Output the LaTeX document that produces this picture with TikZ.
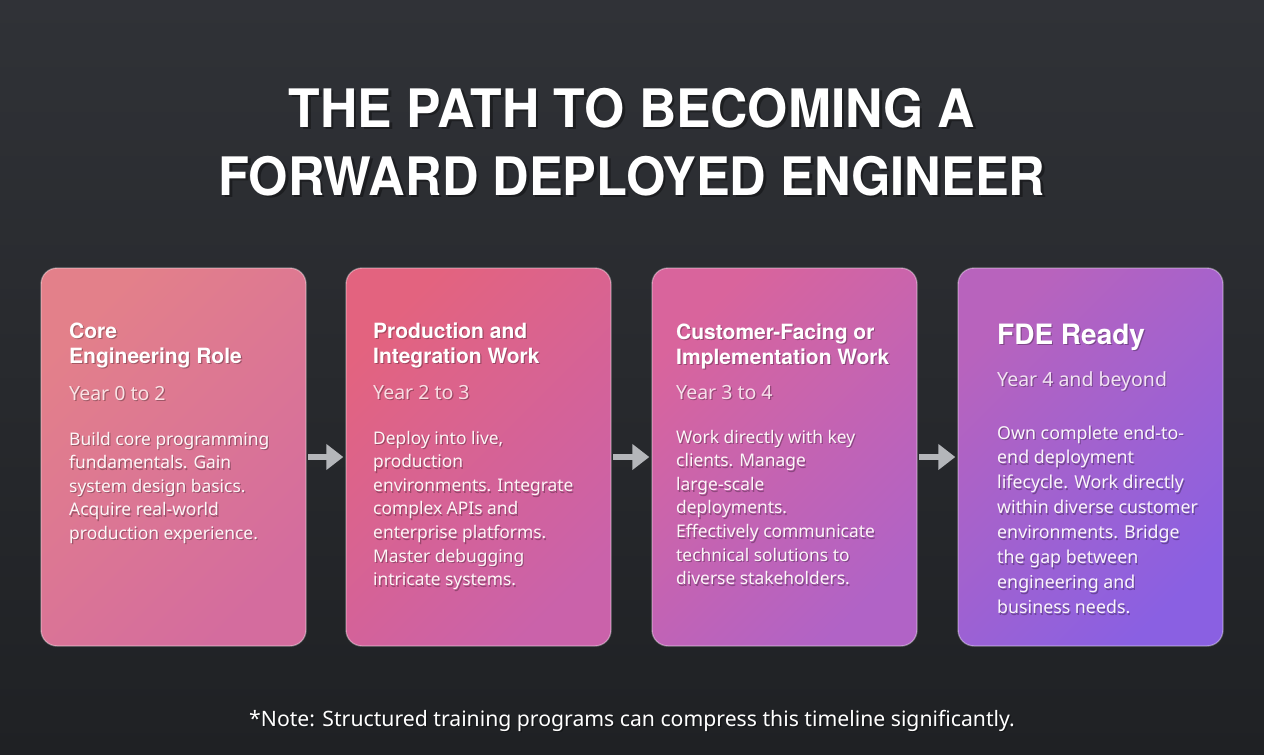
\documentclass[tikz,border=0pt]{standalone}
\usepackage{graphicx}
\usepackage{fontspec}
\setmainfont{Noto Sans}
\newfontfamily\titlefont{TeX Gyre Heros}
\usetikzlibrary{arrows.meta,calc}
\definecolor{bgtop}{HTML}{303237}
\definecolor{bgbot}{HTML}{1F2124}
\definecolor{cAa}{HTML}{E3808A}
\definecolor{cAb}{HTML}{D46C9E}
\definecolor{cBa}{HTML}{E3637F}
\definecolor{cBb}{HTML}{CA62AA}
\definecolor{cCa}{HTML}{D9649C}
\definecolor{cCb}{HTML}{B163C6}
\definecolor{cDa}{HTML}{B863BD}
\definecolor{cDb}{HTML}{8A60E2}
\definecolor{arrowgray}{HTML}{B4B6BA}
\tikzset{
  card/.style={rectangle, rounded corners=16pt, minimum width=265pt, minimum height=378pt,
    inner sep=0pt, draw=white, draw opacity=0.35, line width=1.4pt},
  txt/.style={anchor=base west, inner sep=0pt, text=white},
  arr/.style={draw=arrowgray, line width=6pt, -{Triangle[width=25pt,length=17pt]},
    shorten <=1.5pt, shorten >=2pt},
  bigtitle/.style={anchor=base, inner sep=0pt, font=\titlefont\bfseries\fontsize{53}{60}\selectfont},
  foot/.style={anchor=base, inner sep=0pt, font=\fontsize{21.2}{24}\selectfont},
}
\newcommand{\cardtitle}[1]{\parbox[t]{250pt}{\raggedright\titlefont\bfseries\fontsize{21}{25}\selectfont #1}}
\newcommand{\cardyear}[1]{\parbox[t]{250pt}{\raggedright\fontsize{19.5}{24}\selectfont #1}}
\newcommand{\cardbody}[3]{\parbox[t]{250pt}{\raggedright\fontsize{#1}{#2}\selectfont #3}}
\newcommand{\stxt}[4]{%
  \node[txt, #2, text=black, text opacity=0.28] (#1s) at ($(#3)+(1.2,1.8)$) {#4};
  \node[txt, #2] (#1) at (#3) {#4};}
\begin{document}
\begin{tikzpicture}[x=1pt, y=-1pt]
\useasboundingbox (0,0) rectangle (1264,755);
\shade[top color=bgtop, bottom color=bgbot] (0,0) rectangle (1264,755);

% title
\node[bigtitle, text=black, text opacity=0.35] (t1s) at (634.5,129) {\scalebox{0.975}[1]{THE PATH TO BECOMING A}};
\node[bigtitle, text=white] (t1) at (632,127) {\scalebox{0.975}[1]{THE PATH TO BECOMING A}};
\node[bigtitle, text=black, text opacity=0.35] (t2s) at (634.5,197) {\scalebox{0.955}[1]{FORWARD DEPLOYED ENGINEER}};
\node[bigtitle, text=white] (t2) at (632,195) {\scalebox{0.955}[1]{FORWARD DEPLOYED ENGINEER}};

% cards
\node[card, top color=cAa, bottom color=cAb, shading angle=45] (c1) at (173.5,457) {};
\node[card, top color=cBa, bottom color=cBb, shading angle=45] (c2) at (478.5,457) {};
\node[card, top color=cCa, bottom color=cCb, shading angle=45] (c3) at (784.5,457) {};
\node[card, top color=cDa, bottom color=cDb, shading angle=45] (c4) at (1090.5,457) {};

\draw[arr] (c1.east) -- (c2.west);
\draw[arr] (c2.east) -- (c3.west);
\draw[arr] (c3.east) -- (c4.west);

% card 1
\stxt{h1}{}{69,338}{\cardtitle{Core\\Engineering Role}}
\stxt{y1}{text=white!78!cAa}{69,400}{\cardyear{Year 0 to 2}}
\stxt{b1}{text=white!94!cAa}{69,445}{\cardbody{17.4}{23.5}{Build core programming\\fundamentals. Gain\\system design basics.\\Acquire real-world\\production experience.}}

% card 2
\stxt{h2}{}{373,338}{\cardtitle{Production and\\Integration Work}}
\stxt{y2}{text=white!78!cBa}{373,399}{\cardyear{Year 2 to 3}}
\stxt{b2}{text=white!94!cBa}{373,444}{\cardbody{17.4}{23.6}{Deploy into live,\\production\\environments. Integrate\\complex APIs and\\enterprise platforms.\\Master debugging\\intricate systems.}}

% card 3
\stxt{h3}{}{676,339}{\cardtitle{Customer-Facing or\\Implementation Work}}
\stxt{y3}{text=white!80!cCa}{676,399}{\cardyear{Year 3 to 4}}
\stxt{b3}{text=white!94!cCa}{676,443}{\cardbody{17.4}{23.6}{Work directly with key\\clients. Manage\\large-scale\\deployments.\\Effectively communicate\\technical solutions to\\diverse stakeholders.}}

% card 4
\stxt{h4}{font=\titlefont\bfseries\fontsize{28}{32}\selectfont}{997,344}{FDE Ready}
\stxt{y4}{text=white!82!cDa}{997,386}{\cardyear{Year 4 and beyond}}
\stxt{b4}{text=white!94!cDa}{997,439}{\cardbody{17.8}{24.9}{Own complete end-to-\\end deployment\\lifecycle. Work directly\\within diverse customer\\environments. Bridge\\the gap between\\engineering and\\business needs.}}

% footer
\node[foot, text=black, text opacity=0.35] (fns) at (633.5,727.5) {*Note: Structured training programs can compress this timeline significantly.};
\node[foot, text=white] (fn) at (632,726) {*Note: Structured training programs can compress this timeline significantly.};
\end{tikzpicture}
\end{document}
